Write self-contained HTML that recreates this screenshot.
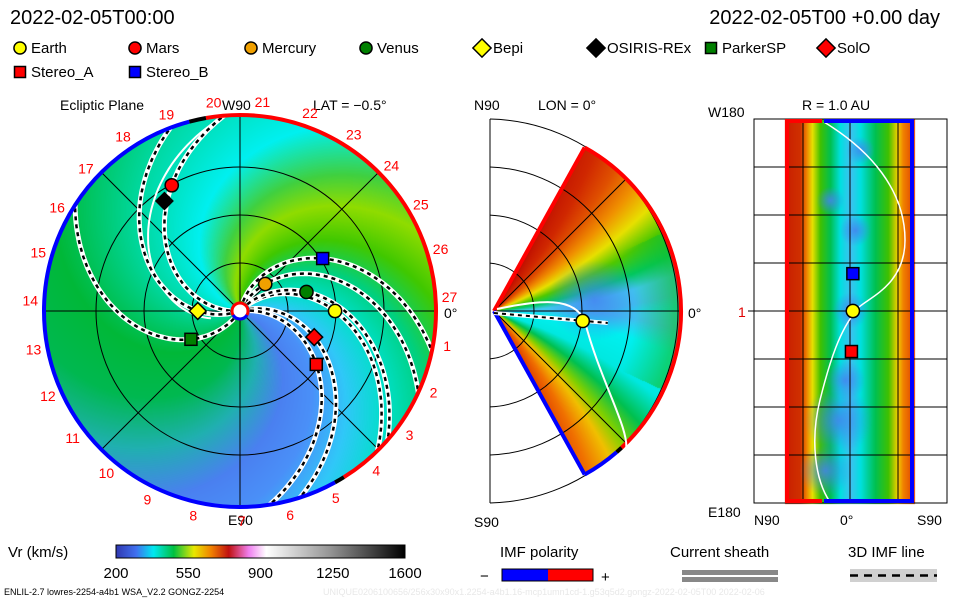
<!DOCTYPE html>
<html><head><meta charset="utf-8">
<style>
html,body{margin:0;padding:0;background:#fff;}
#wrap{position:relative;width:960px;height:600px;overflow:hidden;font-family:"Liberation Sans",sans-serif;}
canvas,svg{position:absolute;left:0;top:0;}
</style></head>
<body>
<div id="wrap">
<canvas id="bg" width="960" height="600"></canvas>
<svg id="ov" width="960" height="600" xmlns="http://www.w3.org/2000/svg" font-family="Liberation Sans, sans-serif">
  <defs>
    <linearGradient id="cbar" x1="0" x2="1" y1="0" y2="0">
      <stop offset="0" stop-color="#3038b0"/>
      <stop offset="0.07" stop-color="#4070f0"/>
      <stop offset="0.13" stop-color="#00e8f0"/>
      <stop offset="0.2" stop-color="#00c040"/>
      <stop offset="0.27" stop-color="#e8e800"/>
      <stop offset="0.33" stop-color="#f08000"/>
      <stop offset="0.39" stop-color="#c01010"/>
      <stop offset="0.46" stop-color="#f080f0"/>
      <stop offset="0.52" stop-color="#ffffff"/>
      <stop offset="0.75" stop-color="#909090"/>
      <stop offset="1" stop-color="#000000"/>
    </linearGradient>
  </defs>
  <g id="texts" font-size="15" fill="#000">
    <text x="10" y="24" font-size="20">2022-02-05T00:00</text>
    <text x="940" y="24" font-size="20" text-anchor="end">2022-02-05T00 +0.00 day</text>
    <text x="60" y="110" font-size="14">Ecliptic Plane</text>
    <text x="222" y="110" font-size="14">W90</text>
    <text x="313" y="110" font-size="14">LAT = −0.5°</text>
    <text x="228" y="525" font-size="14">E90</text>
    <text x="444" y="318" font-size="14">0°</text>
    <text x="474" y="110" font-size="14">N90</text>
    <text x="538" y="110" font-size="14">LON = 0°</text>
    <text x="474" y="527" font-size="14">S90</text>
    <text x="688" y="318" font-size="14">0°</text>
    <text x="708" y="117" font-size="14">W180</text>
    <text x="802" y="110" font-size="14">R = 1.0 AU</text>
    <text x="708" y="517" font-size="14">E180</text>
    <text x="754" y="525" font-size="14">N90</text>
    <text x="840" y="525" font-size="14">0°</text>
    <text x="917" y="525" font-size="14">S90</text>
    <text x="738" y="317" font-size="14" fill="#e00000">1</text>
    <text x="8" y="557" font-size="15">Vr (km/s)</text>
    <text x="500" y="557" font-size="15">IMF polarity</text>
    <text x="480" y="581" font-size="15">−</text>
    <text x="601" y="582" font-size="15">+</text>
    <text x="670" y="557" font-size="15">Current sheath</text>
    <text x="848" y="557" font-size="15">3D IMF line</text>
    <text x="4" y="595" font-size="9">ENLIL-2.7 lowres-2254-a4b1 WSA_V2.2 GONGZ-2254</text>
    <text x="323" y="595" font-size="9" fill="#e8e8e8">UNIQUE0206100656/256x30x90x1.2254-a4b1.16-mcp1umn1cd-1.g53q5d2.gongz-2022-02-05T00   2022-02-06</text>
  </g>
  <rect x="116" y="545" width="289" height="13" fill="url(#cbar)" stroke="#000" stroke-width="1"/>
  <g id="cbticks" font-size="15"></g>
  <rect x="502" y="569" width="46" height="12" fill="#0000ff"/>
  <rect x="548" y="569" width="45" height="12" fill="#ff0000"/>
  <rect x="502" y="569" width="91" height="12" fill="none" stroke="#000"/>
  <rect x="682" y="570" width="96" height="5" fill="#888"/>
  <rect x="682" y="577" width="96" height="5" fill="#888"/>
  <rect x="850" y="569" width="87" height="13" fill="#d0d0d0"/>
  <line x1="850" y1="575.5" x2="937" y2="575.5" stroke="#000" stroke-width="2.5" stroke-dasharray="8 6"/>
  <g id="legend" font-size="15"></g>
  <g id="left"></g>
  <g id="mid"></g>
  <g id="right"></g>
</svg>
</div>
<script>
// ---------- data ----------
const craftNames = ["Earth","Mars","Mercury","Venus","Bepi","OSIRIS-REx","ParkerSP","SolO","Stereo_A","Stereo_B"];
const craftColors = ["#ffff00","#ff0000","#f0a000","#008000","#ffff00","#000000","#008000","#ff0000","#ff0000","#0000ff"];
const craftShapes = ["circle","circle","circle","circle","diamond","diamond","square","diamond","square","square"];
const craftR = [0.99, 1.49, 0.385, 0.72, 0.44, 1.39, 0.59, 0.82, 0.97, 1.02];      // AU
const craftLon = [0, 118.5, 47, 16, 180, 124.5, 210, -19.4, -35, 32.4];          // deg
const spiralCraft = [0, 1, 2, 3, 4, 6, 7, 8, 9];
const sheathLon0 = [212];
const carrLabels = [1,2,3,4,5,6,7,8,9,10,11,12,13,14,15,16,17,18,19,20,21,22,23,24,25,26,27];
const cbTicks = [200, 550, 900, 1250, 1600];
const meridR = [0.93];
const meridLat = [-6.4];
const rightCraft = ["Stereo_B","Earth","Stereo_A"];
const rightLat = [4, 4, 2];
const rightLon = [35, 0, -38];

// ---------- helpers ----------
const NS = "http://www.w3.org/2000/svg";
function mk(tag, attrs, parent){const e=document.createElementNS(NS,tag);for(const k in attrs)e.setAttribute(k,attrs[k]);parent.appendChild(e);return e;}
const LCX=240, LCY=311, AU=96, LR=196;
function lx(r,lon){return LCX + r*AU*Math.cos(lon*Math.PI/180);}
function ly(r,lon){return LCY - r*AU*Math.sin(lon*Math.PI/180);}
function marker(parent, shape, color, x, y, s){
  let e;
  if(shape==="circle") e=mk("circle",{cx:x,cy:y,r:s*0.55,fill:color,stroke:"#000","stroke-width":1.5},parent);
  else if(shape==="square") e=mk("rect",{x:x-s/2,y:y-s/2,width:s,height:s,fill:color,stroke:"#000","stroke-width":1.5},parent);
  else e=mk("polygon",{points:`${x},${y-s*0.7} ${x+s*0.7},${y} ${x},${y+s*0.7} ${x-s*0.7},${y}`,fill:color,stroke:"#000","stroke-width":1.5},parent);
  return e;
}
function hex(c){return [parseInt(c.substr(1,2),16),parseInt(c.substr(3,2),16),parseInt(c.substr(5,2),16)];}
function pal(stops, v){
  for(let i=0;i<stops.length-1;i++){
    if(v>=stops[i][0]&&v<=stops[i+1][0]){
      const t=(v-stops[i][0])/(stops[i+1][0]-stops[i][0]);const a=hex(stops[i][1]),b=hex(stops[i+1][1]);
      return [a[0]+(b[0]-a[0])*t,a[1]+(b[1]-a[1])*t,a[2]+(b[2]-a[2])*t];}
  }
  return hex(stops[v<stops[0][0]?0:stops.length-1][1]);
}
function mixBlue(c,t){return [c[0]*(1-t)+70*t,c[1]*(1-t)+130*t,c[2]*(1-t)+240*t];}

// ---------- background canvas ----------
const cv=document.getElementById("bg"), ctx=cv.getContext("2d");
const img=ctx.createImageData(960,600), d=img.data;
for(let i=0;i<d.length;i+=4){d[i]=d[i+1]=d[i+2]=255;d[i+3]=255;}
function put(x,y,c){const i=(y*960+x)*4;d[i]=c[0];d[i+1]=c[1];d[i+2]=c[2];}
const phaseStops=[[0,"#4a90f8"],[22,"#30c8f8"],[45,"#00e0c8"],[67,"#00d080"],[90,"#40c800"],[112,"#90dc00"],[130,"#40d040"],[157,"#00f0f0"],[200,"#00d8a0"],[247,"#00b838"],[280,"#00b850"],[310,"#20b0b0"],[338,"#4a80f0"],[360,"#4a90f8"]];
for(let y=LCY-LR;y<=LCY+LR;y++)for(let x=LCX-LR;x<=LCX+LR;x++){
  const dx=x-LCX,dy=LCY-y,r=Math.hypot(dx,dy);if(r>LR)continue;
  let lon=Math.atan2(dy,dx)*180/Math.PI;
  let ph=lon+0.45*r; ph=((ph%360)+360)%360;
  put(x,y,pal(phaseStops,ph));
}
// meridional wedge
const MCX=494, MCY=311, MR=187;
const latStops=[[-62,"#e04000"],[-54,"#f07000"],[-46,"#f0c000"],[-40,"#80d000"],[-32,"#00c050"],[-22,"#00e8e0"],[-8,"#00f0f0"],[0,"#40c0f0"],[6,"#40c8f0"],[12,"#00c860"],[20,"#50c800"],[28,"#e8e000"],[36,"#f09000"],[44,"#e05000"],[52,"#d02800"],[62,"#c01000"]];
for(let y=MCY-MR;y<=MCY+MR;y++)for(let x=MCX;x<=MCX+MR;x++){
  const dx=x-MCX,dy=MCY-y,r=Math.hypot(dx,dy);if(r>MR||r<3)continue;
  const lat=Math.atan2(dy,dx)*180/Math.PI; if(Math.abs(lat)>61)continue;
  let c=pal(latStops,lat - (r-90)*0.06*Math.sign(lat));
  if(r>140&&Math.abs(lat)<25){const t=Math.min(1,(r-140)/40)*0.6;c=[c[0]*(1-t)+20*t,c[1]*(1-t)+190*t,c[2]*(1-t)+40*t];}
  const bd=Math.hypot((x-594)/1.2,y-300); if(bd<40){c=mixBlue(c,(1-bd/40)*0.85);}
  put(x,y,c);
}
// right panel strip
const xStops=[[785,"#c82000"],[800,"#d03000"],[806,"#f08000"],[812,"#e8e000"],[820,"#40c000"],[830,"#00c050"],[840,"#00e0e0"],[850,"#40c0f0"],[860,"#00e0e0"],[875,"#00c050"],[888,"#40c000"],[897,"#f0d000"],[903,"#f08000"],[914,"#e04000"]];
const blobs=[[838,420,34],[825,470,26],[850,310,18],[855,230,16],[830,200,14],[860,150,14],[845,380,20]];
for(let y=119;y<=503;y++)for(let x=785;x<=914;x++){
  let c=pal(xStops,x);
  for(const b of blobs){const bd=Math.hypot(x-b[0],y-b[1]);if(bd<b[2]){c=mixBlue(c,(1-bd/b[2])*0.85);}}
  put(x,y,c);
}
ctx.putImageData(img,0,0);

// ---------- left panel overlay ----------
const L=document.getElementById("left");
[0.5,1,1.5].forEach((r,i)=>{const c=mk("circle",{cx:LCX,cy:LCY,r:r*AU,fill:"none",stroke:"#000","stroke-width":1},L);

});
[0,45,90,135].forEach(a=>{const c=Math.cos(a*Math.PI/180)*LR,s=Math.sin(a*Math.PI/180)*LR;
const ln=mk("line",{x1:LCX-c,y1:LCY+s,x2:LCX+c,y2:LCY-s,stroke:"#000","stroke-width":1},L);

});
// sheath lines (white)
sheathLon0.forEach((l0,i)=>{let p="";for(let r=30;r<=LR-4;r+=3){const lon=l0-0.6*r;p+=(p?"L":"M")+(LCX+r*Math.cos(lon*Math.PI/180)).toFixed(1)+","+(LCY-r*Math.sin(lon*Math.PI/180)).toFixed(1);}
const e=mk("path",{d:p,fill:"none",stroke:"#fff","stroke-width":2},L);

});
// IMF spirals through spacecraft
spiralCraft.forEach(ci=>{
  const rpx=craftR[ci]*AU, k=0.45, l0=craftLon[ci]+k*rpx; let p="";
  for(let r=10;r<=LR;r+=3){const lon=l0-k*r;p+=(p?"L":"M")+(LCX+r*Math.cos(lon*Math.PI/180)).toFixed(1)+","+(LCY-r*Math.sin(lon*Math.PI/180)).toFixed(1);}
  const w=mk("path",{d:p,fill:"none",stroke:"#fff","stroke-width":5},L);
  
  
  const b=mk("path",{d:p,fill:"none",stroke:"#000","stroke-width":2.5,"stroke-dasharray":"4 4"},L);
  
  
});
// outer rim polarity
function arc(r,a0,a1){const p0=[LCX+r*Math.cos(a0*Math.PI/180),LCY-r*Math.sin(a0*Math.PI/180)],p1=[LCX+r*Math.cos(a1*Math.PI/180),LCY-r*Math.sin(a1*Math.PI/180)];
const large=Math.abs(a1-a0)>180?1:0;return `M${p0[0]},${p0[1]}A${r},${r} 0 ${large} ${a1<a0?1:0} ${p1[0]},${p1[1]}`;}
let e=mk("path",{d:arc(LR,100,-58),fill:"none",stroke:"#ff0000","stroke-width":4},L);

e=mk("path",{d:arc(LR,105,299),fill:"none",stroke:"#0000ff","stroke-width":4},L);

e=mk("path",{d:arc(LR,105,100),fill:"none",stroke:"#000","stroke-width":4},L);

e=mk("path",{d:arc(LR,-58,-61),fill:"none",stroke:"#000","stroke-width":4},L);

// sun
e=mk("circle",{cx:LCX,cy:LCY,r:8,fill:"#fff",stroke:"#ff0000","stroke-width":3},L);

e=mk("path",{d:arc(8,-30,-150),fill:"none",stroke:"#0000ff","stroke-width":3},L);

// carrington labels
carrLabels.forEach(n=>{const k=n===27?0:n;const lon=3.8-k*13.33;const x=LCX+210*Math.cos(lon*Math.PI/180),y=LCY-210*Math.sin(lon*Math.PI/180);
const t=mk("text",{x:x,y:y+5,"text-anchor":"middle","font-size":14,fill:"#ff0000"},L);t.textContent=n;

});
// spacecraft
craftNames.forEach((nm,i)=>{const m=marker(L,craftShapes[i],craftColors[i],lx(craftR[i],craftLon[i]),ly(craftR[i],craftLon[i]),12);

});

// ---------- middle panel ----------
const M=document.getElementById("mid");
e=mk("path",{d:"M490,119V503",stroke:"#000","stroke-width":1,fill:"none"},M);

function arc2(r){const x0=MCX-4;const h=Math.sqrt(Math.max(0,r*r-16));return `M${x0},${MCY-h}A${r},${r} 0 0 1 ${x0},${MCY+h}`;}
[48,96,144,192].forEach(r=>{
const c=mk("path",{d:arc2(r),fill:"none",stroke:"#000","stroke-width":1},M);

});
[0,45,-45].forEach(a=>{const ln=mk("line",{x1:MCX,y1:MCY,x2:MCX+MR*Math.cos(a*Math.PI/180),y2:MCY-MR*Math.sin(a*Math.PI/180),stroke:"#000","stroke-width":1},M);

});
function mp(r,lat){return [MCX+r*Math.cos(lat*Math.PI/180),MCY-r*Math.sin(lat*Math.PI/180)];}
function marc(a0,a1,col,name){const p0=mp(MR,a0),p1=mp(MR,a1);const pe=mk("path",{d:`M${p0[0]},${p0[1]}A${MR},${MR} 0 0 1 ${p1[0]},${p1[1]}`,fill:"none",stroke:col,"stroke-width":4},M);
}
marc(61,-47,"#ff0000","wedge-positive-rim");marc(-47,-49,"#000","wedge-sheath-crossing");marc(-49,-61,"#0000ff","wedge-negative-rim");
let pt=mp(MR,61);e=mk("line",{x1:MCX,y1:MCY,x2:pt[0],y2:pt[1],stroke:"#ff0000","stroke-width":4},M);

pt=mp(MR,-61);e=mk("line",{x1:MCX,y1:MCY,x2:pt[0],y2:pt[1],stroke:"#0000ff","stroke-width":4},M);

// white sheath curve
e=mk("path",{d:"M497,309 C540,300 575,296 585,322 C600,380 630,430 626,450",fill:"none",stroke:"#fff","stroke-width":2},M);

meridR.forEach((r,i)=>{const p=mp(r*AU,meridLat[i]);
const w=mk("line",{x1:MCX,y1:MCY+2,x2:p[0]+25,y2:p[1]+2,stroke:"#fff","stroke-width":4},M);

const b=mk("line",{x1:MCX,y1:MCY+2,x2:p[0]+25,y2:p[1]+2,stroke:"#000","stroke-width":2,"stroke-dasharray":"4 4"},M);

const m=marker(M,"circle","#ffff00",p[0],p[1],12);

});

// ---------- right panel ----------
const R=document.getElementById("right");
e=mk("rect",{x:754,y:119,width:193,height:384,fill:"none",stroke:"#000"},R);

[167,215,263,311,359,407,455].forEach(y=>{const ln=mk("line",{x1:754,y1:y,x2:947,y2:y,stroke:"#000"},R);
});
[803,850,898].forEach(x=>{const ln=mk("line",{x1:x,y1:119,x2:x,y2:503,stroke:"#000"},R);
});
e=mk("line",{x1:748,y1:311,x2:754,y2:311,stroke:"#000"},R);

e=mk("path",{d:"M824,122 C870,150 905,190 905,240 C905,290 860,300 856,311 C840,330 830,360 820,400 C810,440 815,480 830,502",fill:"none",stroke:"#fff","stroke-width":1.5},R);

[["M787,121V501","#ff0000"],["M912,121V501","#0000ff"],["M785,121H822","#ff0000"],["M824,121H914","#0000ff"],["M785,501H822","#ff0000"],["M824,501H914","#0000ff"]].forEach((s,i)=>{
const pe=mk("path",{d:s[0],stroke:s[1],"stroke-width":4,fill:"none"},R);
});
function rx(lat){return 850+lat*(129/180);}
function ry(lon){return 311-lon*(192/180);}
rightCraft.forEach((nm,i)=>{const idx=craftNames.indexOf(nm);
const m=marker(R,craftShapes[idx]==="circle"?"circle":"square",craftColors[idx],rx(rightLat[i]),ry(rightLon[i]),12);

});

// ---------- colorbar ticks ----------
const CB=document.getElementById("cbticks");
cbTicks.forEach(v=>{const x=116+(v-200)/1400*289;const t=mk("text",{x:x,y:578,"text-anchor":"middle"},CB);t.textContent=v;

});

// ---------- legend ----------
const LG=document.getElementById("legend");
const legX=[20,135,251,366,482,596,711,826,20,135];
const legY=[48,48,48,48,48,48,48,48,72,72];
craftNames.forEach((nm,i)=>{
  const m=marker(LG,craftShapes[i],craftColors[i],legX[i],legY[i],craftShapes[i]==="diamond"?13:11);
  
  
  const t=mk("text",{x:legX[i]+11,y:legY[i]+5},LG);t.textContent=nm;
  
  
});
</script>
</body></html>
